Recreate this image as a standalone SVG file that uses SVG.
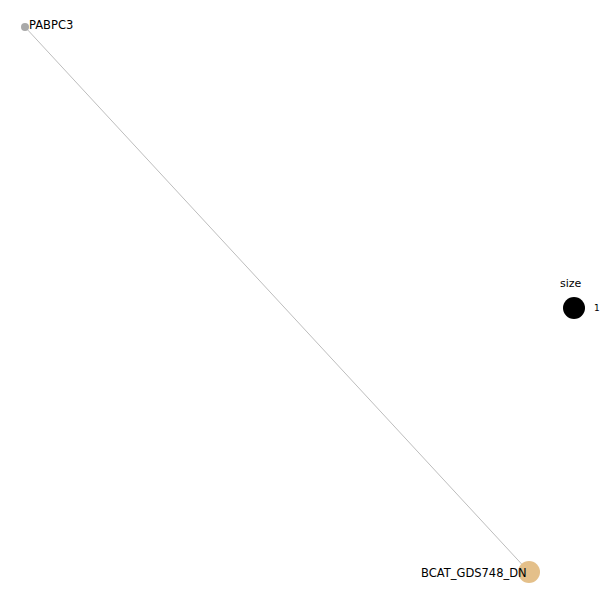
<svg xmlns="http://www.w3.org/2000/svg" width="600" height="600" viewBox="0 0 600 600">
<style>
.lbl{font-family:"DejaVu Sans",sans-serif;font-size:11.5px;fill:#000}
.edge{stroke:#bdbdbd;stroke-width:1;fill:none}
</style>
<rect width="600" height="600" fill="#fff"/>
<g id="connectors">
<line class="edge" x1="25" y1="27" x2="529" y2="572"/>
</g>
<g id="node-PABPC3">
<circle cx="25" cy="27" r="4" fill="#a9a9a9"/>
<text class="lbl" x="29" y="29">PABPC3</text>
</g>
<g id="node-BCAT_GDS748_DN">
<circle cx="529" cy="572" r="11" fill="#e4c08a"/>
<text class="lbl" x="421" y="577">BCAT_GDS748_DN</text>
</g>
<g id="legend">
<text class="lbl" x="560" y="287" style="font-size:11px">size</text>
<circle cx="574" cy="308" r="11" fill="#000"/>
<text class="lbl" x="594" y="311" style="font-size:9px">1</text>
</g>
</svg>
